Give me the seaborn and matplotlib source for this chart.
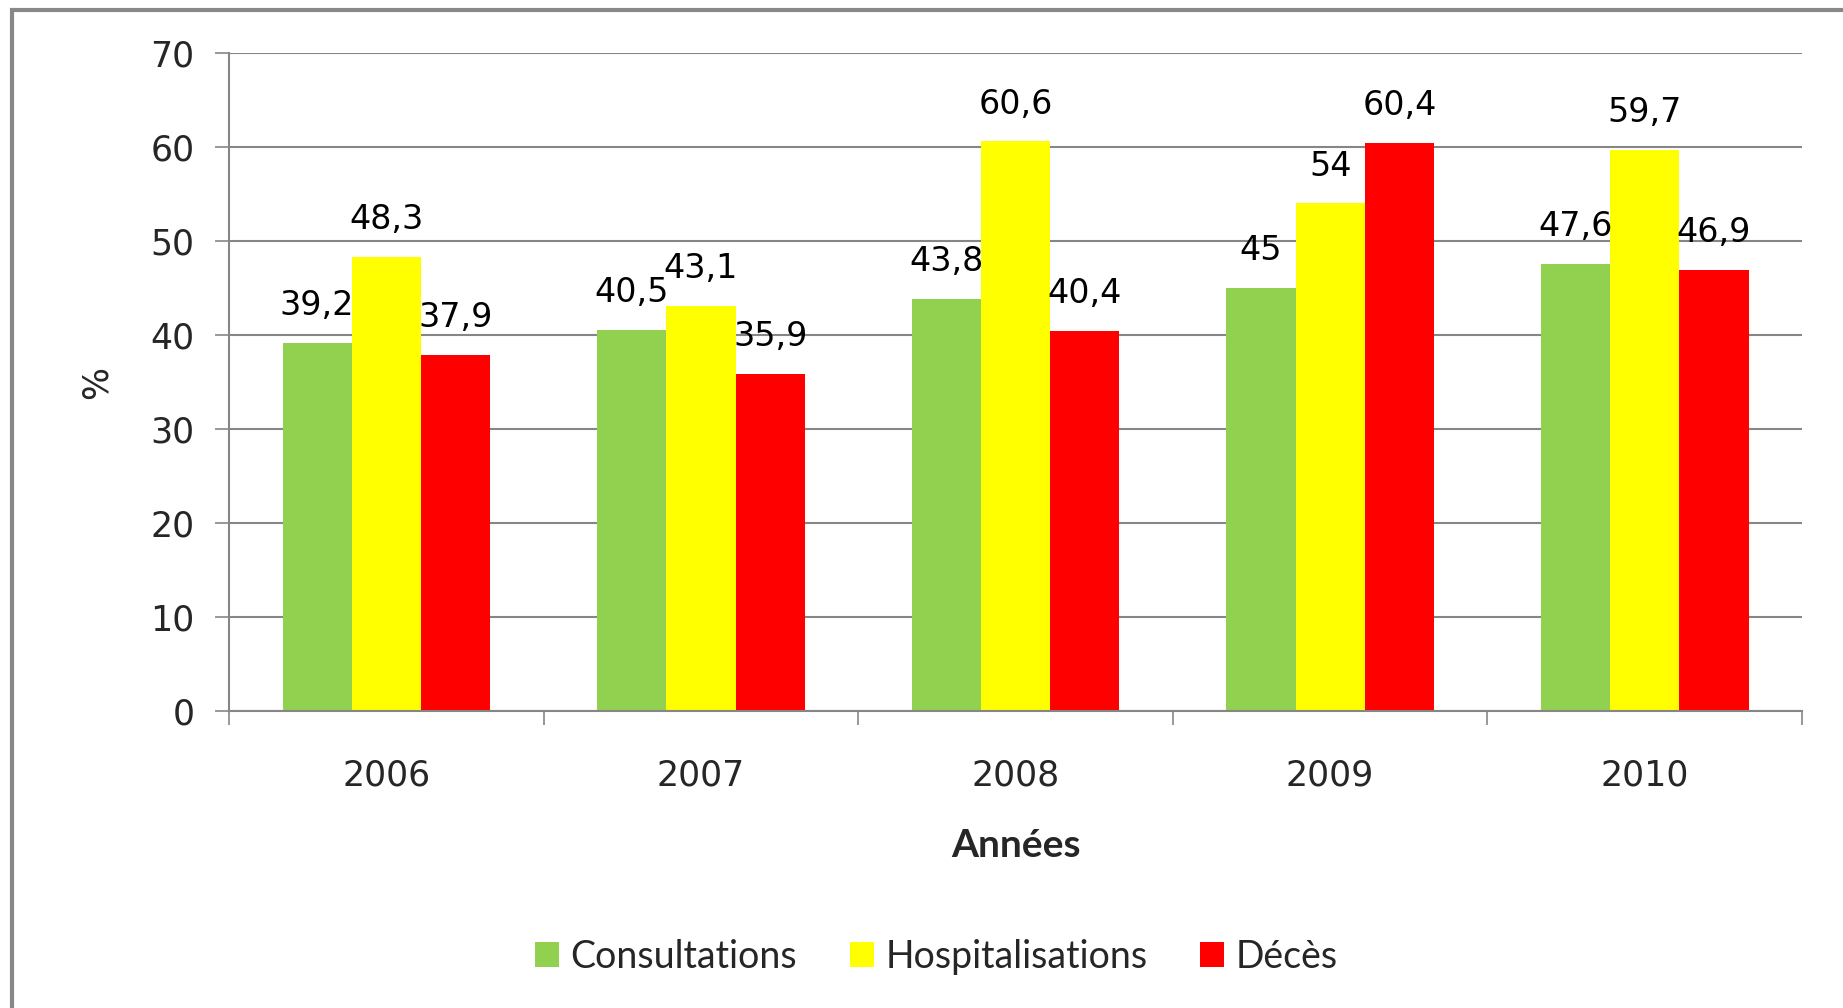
"""Consultations / hospitalisations / décès per year, grouped bar chart."""

import matplotlib

matplotlib.use("Agg")

import matplotlib.pyplot as plt
import numpy as np
import pandas as pd
import seaborn as sns
from matplotlib.patches import Rectangle
from matplotlib.ticker import FixedLocator

# Data
years = ["2006", "2007", "2008", "2009", "2010"]
series_names = ["Consultations", "Hospitalisations", "Décès"]
consultations = [39.2, 40.5, 43.8, 45, 47.6]
hospitalisations = [48.3, 43.1, 60.6, 54, 59.7]
deces = [37.9, 35.9, 40.4, 60.4, 46.9]
y_ticks = [0, 10, 20, 30, 40, 50, 60, 70]

colors = {"Consultations": "#92D050", "Hospitalisations": "#FFFF00", "Décès": "#FF0000"}
GRAY = "#868686"

sns.set_theme(style="white")
plt.rcParams["font.family"] = ["DejaVu Sans"]

df = pd.DataFrame(
    {
        "Année": years * 3,
        "Série": np.repeat(series_names, len(years)),
        "Valeur": consultations + hospitalisations + deces,
    }
)

fig = plt.figure(figsize=(18.43, 10.08), dpi=100)
ax = fig.add_axes([0.1243, 0.2946, 0.9778 - 0.1243, 0.9474 - 0.2946])

sns.barplot(
    data=df,
    x="Année",
    y="Valeur",
    hue="Série",
    hue_order=series_names,
    palette=colors,
    saturation=1,
    width=0.66,
    linewidth=0,
    errorbar=None,
    ax=ax,
)

# Data labels with a decimal comma
for container, vals in zip(ax.containers, [consultations, hospitalisations, deces]):
    labels = [f"{v:g}".replace(".", ",") for v in vals]
    ax.bar_label(container, labels=labels, padding=15, fontsize=24, color="black")

handles, labels = ax.get_legend_handles_labels()
ax.get_legend().remove()

ax.set_xlim(-0.5, len(years) - 0.5)
ax.set_ylim(0, 70)
ax.set_yticks(y_ticks)
ax.set_yticklabels([str(t) for t in y_ticks], fontsize=25)
ax.tick_params(axis="y", length=10, width=1.2, color=GRAY, direction="out", pad=15, left=True)
ax.tick_params(axis="x", which="major", length=0, pad=34, labelsize=25)
ax.xaxis.set_minor_locator(FixedLocator(np.arange(-0.5, len(years), 1.0)))
ax.tick_params(axis="x", which="minor", length=10, width=1.2, color=GRAY, direction="out", bottom=True)

ax.yaxis.grid(True, color=GRAY, linewidth=1.5)
ax.set_axisbelow(True)
for side in ["top", "right"]:
    ax.spines[side].set_visible(False)
for side in ["left", "bottom"]:
    ax.spines[side].set_color(GRAY)
    ax.spines[side].set_linewidth(1.5)

ax.set_ylabel("%", fontsize=25, labelpad=26)
ax.set_xlabel("Années", fontsize=28, fontweight="bold", family=["Lato", "DejaVu Sans"], labelpad=26)

leg = fig.legend(
    handles,
    labels,
    loc="center",
    bbox_to_anchor=(0.508, 0.051),
    ncol=3,
    frameon=False,
    prop={"family": ["Lato", "DejaVu Sans"], "size": 27},
    handlelength=0.65,
    handleheight=0.65,
    handletextpad=0.3,
    columnspacing=1.4,
)

# Outer chart frame (grey border, left and top visible)
fig.patches.append(
    Rectangle(
        (12 / 1843, -0.01),
        1.0,
        1.0 - 10 / 1008 + 0.01,
        transform=fig.transFigure,
        fill=False,
        edgecolor="#888888",
        linewidth=3,
        clip_on=False,
    )
)

fig.savefig("out.png", dpi=100)
plt.close(fig)
